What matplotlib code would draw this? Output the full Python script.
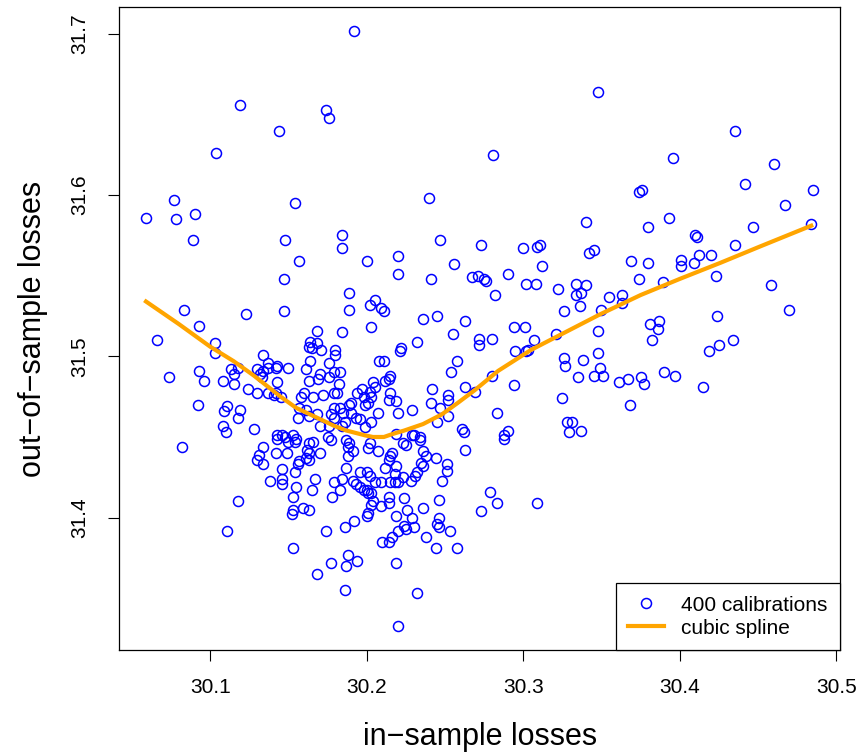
import matplotlib
matplotlib.use("Agg")
import matplotlib.pyplot as plt

plt.rcParams['font.family'] = ['Liberation Sans', 'DejaVu Sans']

# in-sample / out-of-sample losses of the 400 calibrations
in_sample = [
    30.192, 30.119, 30.174, 30.176, 30.144, 30.104, 30.077, 30.154, 30.059, 30.078,
    30.090, 30.348, 30.281, 30.240, 30.340, 30.435, 30.396, 30.460, 30.442, 30.374,
    30.376, 30.485, 30.467, 30.393, 30.380, 30.410, 30.411, 30.447, 30.435, 30.369,
    30.380, 30.401, 30.401, 30.409, 30.412, 30.420, 30.484, 30.374, 30.389, 30.423,
    30.458, 30.470, 30.363, 30.363, 30.355, 30.381, 30.387, 30.386, 30.382, 30.424,
    30.434, 30.425, 30.419, 30.361, 30.367, 30.375, 30.377, 30.390, 30.397, 30.415,
    30.368,
    30.247, 30.273, 30.300, 30.309, 30.311, 30.342, 30.345, 30.220, 30.200, 30.220,
    30.256, 30.312, 30.241, 30.267, 30.271, 30.275, 30.276, 30.290, 30.302, 30.308,
    30.322, 30.334, 30.340, 30.337, 30.334, 30.282, 30.205, 30.202, 30.209, 30.211,
    30.326, 30.336, 30.350, 30.245, 30.236, 30.263, 30.203, 30.294, 30.301, 30.255,
    30.321, 30.348, 30.272, 30.272, 30.280, 30.307, 30.232, 30.221, 30.222, 30.295,
    30.302, 30.303, 30.326, 30.327, 30.338, 30.348, 30.208, 30.211, 30.258, 30.254,
    30.349, 30.345, 30.351, 30.335, 30.280, 30.212, 30.215, 30.214, 30.204, 30.205,
    30.242, 30.263, 30.269, 30.294, 30.325, 30.241, 30.247, 30.252, 30.252, 30.229,
    30.283, 30.245, 30.252, 30.328, 30.331, 30.329, 30.337, 30.261, 30.262, 30.290,
    30.288, 30.229, 30.230, 30.234,
    30.089, 30.148, 30.184, 30.184, 30.157, 30.147, 30.189, 30.189, 30.083, 30.123,
    30.147, 30.093, 30.066, 30.168, 30.184, 30.103, 30.103, 30.163, 30.165, 30.168,
    30.164, 30.171, 30.180, 30.180, 30.134, 30.164, 30.137, 30.176, 30.093, 30.113,
    30.118, 30.115, 30.130, 30.134, 30.137, 30.142, 30.143, 30.133, 30.132, 30.150,
    30.161, 30.170, 30.169, 30.176, 30.179, 30.183, 30.074, 30.096, 30.108, 30.115,
    30.143, 30.163, 30.182, 30.124, 30.130, 30.137, 30.141, 30.142, 30.092, 30.111,
    30.109, 30.119, 30.118, 30.108, 30.110, 30.128, 30.143, 30.197,
    30.082, 30.134, 30.143, 30.131, 30.130, 30.134, 30.142, 30.138, 30.118, 30.111,
    30.174, 30.186, 30.192, 30.200, 30.153, 30.188, 30.177, 30.187, 30.194, 30.168,
    30.186, 30.153, 30.152, 30.159, 30.163,
    30.234, 30.288, 30.263, 30.236, 30.238, 30.244, 30.251, 30.251, 30.235, 30.236,
    30.232, 30.231, 30.228, 30.248, 30.246, 30.226, 30.236, 30.219, 30.229, 30.246,
    30.245, 30.246, 30.224, 30.225, 30.230, 30.220, 30.253, 30.216, 30.210, 30.214,
    30.238, 30.244, 30.258, 30.279, 30.283, 30.273, 30.309, 30.219, 30.232, 30.220,
    30.224, 30.204, 30.203, 30.209, 30.214, 30.201, 30.225,
    30.145, 30.158, 30.160, 30.166, 30.172, 30.179, 30.181, 30.194, 30.202, 30.203,
    30.215, 30.214, 30.219, 30.198, 30.190, 30.189, 30.199, 30.201, 30.179, 30.183,
    30.185, 30.157, 30.161, 30.168, 30.156, 30.163, 30.177, 30.179, 30.190, 30.193,
    30.196, 30.207, 30.220, 30.203, 30.186, 30.184, 30.176, 30.170, 30.199, 30.146,
    30.148, 30.153, 30.155, 30.150, 30.154, 30.175, 30.177, 30.187, 30.189, 30.188,
    30.166, 30.163, 30.202, 30.201, 30.219, 30.223, 30.149, 30.162, 30.163, 30.170,
    30.161, 30.191, 30.188, 30.207, 30.216, 30.215, 30.214, 30.212, 30.219, 30.157,
    30.156, 30.163, 30.187, 30.146, 30.154, 30.196, 30.200, 30.202, 30.218, 30.223,
    30.167, 30.146, 30.146, 30.179, 30.184, 30.183, 30.155, 30.165, 30.191, 30.193,
    30.196, 30.198, 30.200, 30.201, 30.203, 30.205, 30.209, 30.215, 30.218, 30.220,
    30.153, 30.178, 30.214,
]

out_sample = [
    31.702, 31.656, 31.653, 31.648, 31.640, 31.626, 31.597, 31.595, 31.586, 31.585,
    31.588, 31.664, 31.625, 31.598, 31.583, 31.640, 31.623, 31.619, 31.607, 31.602,
    31.603, 31.603, 31.594, 31.586, 31.580, 31.575, 31.574, 31.580, 31.569, 31.559,
    31.558, 31.560, 31.556, 31.558, 31.563, 31.563, 31.582, 31.548, 31.546, 31.550,
    31.544, 31.529, 31.538, 31.533, 31.537, 31.520, 31.522, 31.517, 31.510, 31.525,
    31.510, 31.507, 31.503, 31.484, 31.486, 31.487, 31.483, 31.490, 31.488, 31.481,
    31.470,
    31.572, 31.569, 31.567, 31.568, 31.569, 31.564, 31.566, 31.562, 31.559, 31.551,
    31.557, 31.556, 31.548, 31.549, 31.550, 31.548, 31.547, 31.551, 31.545, 31.545,
    31.542, 31.545, 31.544, 31.539, 31.538, 31.538, 31.535, 31.532, 31.530, 31.528,
    31.528, 31.531, 31.529, 31.525, 31.523, 31.522, 31.518, 31.518, 31.518, 31.514,
    31.514, 31.516, 31.511, 31.507, 31.511, 31.510, 31.509, 31.503, 31.505, 31.503,
    31.503, 31.504, 31.499, 31.494, 31.498, 31.502, 31.497, 31.497, 31.497, 31.490,
    31.493, 31.488, 31.488, 31.487, 31.488, 31.485, 31.488, 31.486, 31.484, 31.481,
    31.480, 31.481, 31.478, 31.482, 31.474, 31.471, 31.468, 31.476, 31.473, 31.467,
    31.465, 31.459, 31.463, 31.459, 31.459, 31.453, 31.454, 31.455, 31.453, 31.454,
    31.451, 31.451, 31.451, 31.450,
    31.572, 31.572, 31.575, 31.567, 31.559, 31.548, 31.539, 31.529, 31.529, 31.526,
    31.528, 31.519, 31.510, 31.516, 31.515, 31.508, 31.502, 31.506, 31.505, 31.508,
    31.509, 31.504, 31.504, 31.501, 31.501, 31.497, 31.496, 31.496, 31.491, 31.492,
    31.493, 31.489, 31.492, 31.491, 31.493, 31.493, 31.494, 31.487, 31.489, 31.493,
    31.492, 31.489, 31.486, 31.487, 31.490, 31.490, 31.487, 31.485, 31.485, 31.483,
    31.484, 31.485, 31.483, 31.480, 31.477, 31.477, 31.476, 31.477, 31.470, 31.469,
    31.466, 31.467, 31.462, 31.457, 31.453, 31.455, 31.451, 31.480,
    31.444, 31.444, 31.449, 31.439, 31.436, 31.433, 31.440, 31.423, 31.410, 31.392,
    31.392, 31.394, 31.398, 31.401, 31.381, 31.377, 31.372, 31.370, 31.373, 31.365,
    31.355, 31.405, 31.402, 31.406, 31.405,
    31.448, 31.449, 31.442, 31.441, 31.438, 31.437, 31.433, 31.429, 31.434, 31.432,
    31.428, 31.426, 31.423, 31.423, 31.411, 31.405, 31.406, 31.401, 31.400, 31.400,
    31.396, 31.394, 31.395, 31.393, 31.394, 31.392, 31.392, 31.388, 31.385, 31.385,
    31.388, 31.381, 31.381, 31.416, 31.409, 31.404, 31.409, 31.372, 31.353, 31.333,
    31.412, 31.410, 31.408, 31.407, 31.409, 31.403, 31.445,
    31.475, 31.475, 31.477, 31.475, 31.476, 31.477, 31.477, 31.477, 31.478, 31.475,
    31.477, 31.473, 31.472, 31.475, 31.471, 31.470, 31.470, 31.471, 31.468, 31.468,
    31.465, 31.468, 31.467, 31.464, 31.462, 31.463, 31.464, 31.462, 31.465, 31.462,
    31.461, 31.465, 31.465, 31.459, 31.459, 31.457, 31.457, 31.457, 31.456, 31.451,
    31.450, 31.451, 31.449, 31.447, 31.447, 31.450, 31.448, 31.448, 31.446, 31.444,
    31.447, 31.446, 31.446, 31.443, 31.452, 31.446, 31.440, 31.442, 31.440, 31.440,
    31.437, 31.441, 31.438, 31.441, 31.440, 31.438, 31.436, 31.431, 31.432, 31.435,
    31.433, 31.436, 31.431, 31.430, 31.428, 31.428, 31.428, 31.426, 31.427, 31.425,
    31.424, 31.424, 31.421, 31.422, 31.424, 31.417, 31.419, 31.417, 31.423, 31.421,
    31.419, 31.417, 31.417, 31.415, 31.415, 31.422, 31.422, 31.422, 31.422, 31.422,
    31.413, 31.413, 31.413,
]

# fitted cubic spline (read at points along the curve)
spline_x = [30.059, 30.080, 30.100, 30.115, 30.128, 30.145, 30.155, 30.166, 30.179,
            30.187, 30.199, 30.204, 30.211, 30.217, 30.224, 30.236, 30.248, 30.258,
            30.269, 30.284, 30.305, 30.327, 30.349, 30.375, 30.400, 30.426, 30.451,
            30.484]
spline_y = [31.534, 31.520, 31.506, 31.497, 31.488, 31.475, 31.468, 31.463, 31.457,
            31.454, 31.451, 31.450, 31.450, 31.452, 31.454, 31.458, 31.464, 31.471,
            31.479, 31.491, 31.504, 31.515, 31.526, 31.538, 31.548, 31.558, 31.568,
            31.581]

x_ticks = [30.1, 30.2, 30.3, 30.4, 30.5]
y_ticks = [31.4, 31.5, 31.6, 31.7]

fig = plt.figure(figsize=(8.57, 7.54), dpi=100)
ax = fig.add_axes([0.1393, 0.1379, 0.8409, 0.8528])

ax.plot(in_sample, out_sample, 'o', mfc='none', mec='#0000ff', ms=7.2, mew=1.1,
        label='400 calibrations')
ax.plot(spline_x, spline_y, '-', color='orange', lw=3, solid_joinstyle='round',
        label='cubic spline')

ax.set_xlim(30.042, 30.5024)
ax.set_ylim(31.3179, 31.7166)
ax.set_xticks(x_ticks)
ax.set_yticks(y_ticks)
ax.set_xticklabels([str(v) for v in x_ticks])
ax.set_yticklabels([str(v) for v in y_ticks], rotation=90, va='center')
ax.tick_params(direction='out', length=8, width=0.8, labelsize=15, colors='black')
ax.tick_params(axis='x', pad=12)
ax.tick_params(axis='y', pad=14)
for s in ax.spines.values():
    s.set_linewidth(0.9)
    s.set_color('black')

ax.set_xlabel('in\u2212sample losses', fontsize=22)
ax.set_ylabel('out\u2212of\u2212sample losses', fontsize=22)
ax.xaxis.set_label_coords(0.5, -0.135)
ax.xaxis.label.set_va('center')
ax.yaxis.set_label_coords(-0.12, 0.5)
ax.yaxis.label.set_va('center')

# R-style legend: square box flush with the bottom-right corner
leg = ax.legend(loc='lower right', borderaxespad=0, fontsize=15, fancybox=False,
                framealpha=1, edgecolor='black', handlelength=1.75, handleheight=0.9,
                borderpad=0.6, labelspacing=0.12, handletextpad=0.8)
leg.get_frame().set_linewidth(0.9)

fig.savefig('out.png', dpi=100)
